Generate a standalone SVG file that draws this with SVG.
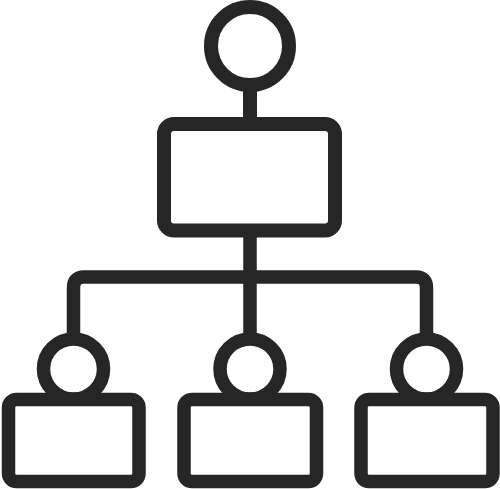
<svg xmlns="http://www.w3.org/2000/svg" width="500" height="489" viewBox="0 0 500 489">
<style>
.s{fill:none;stroke:#262626;stroke-linejoin:round;stroke-linecap:butt}
.big{stroke-width:14}
.sm{stroke-width:13.5}
</style>
<rect width="500" height="489" fill="#ffffff"/>
<g id="connectors">
<path class="s big" d="M250 85 V124"/>
<path class="s sm" d="M250 237 V338"/>
<path class="s sm" d="M73.5 338 V288 Q73.5 277 84 277 H416 Q426.5 277 426.5 288 V338"/>
</g>
<g id="root">
<circle class="s big" cx="250" cy="46" r="39"/>
<rect class="s big" x="164" y="124" width="171" height="106.5" rx="10"/>
</g>
<g id="child1">
<circle class="s sm" cx="73.5" cy="369" r="30"/>
<rect class="s sm" x="8.5" y="399.5" width="130.5" height="82" rx="8"/>
</g>
<g id="child2">
<circle class="s sm" cx="250" cy="369" r="30"/>
<rect class="s sm" x="184" y="399.5" width="132.5" height="82" rx="8"/>
</g>
<g id="child3">
<circle class="s sm" cx="426.5" cy="369" r="30"/>
<rect class="s sm" x="361" y="399.5" width="132" height="82" rx="8"/>
</g>
</svg>
